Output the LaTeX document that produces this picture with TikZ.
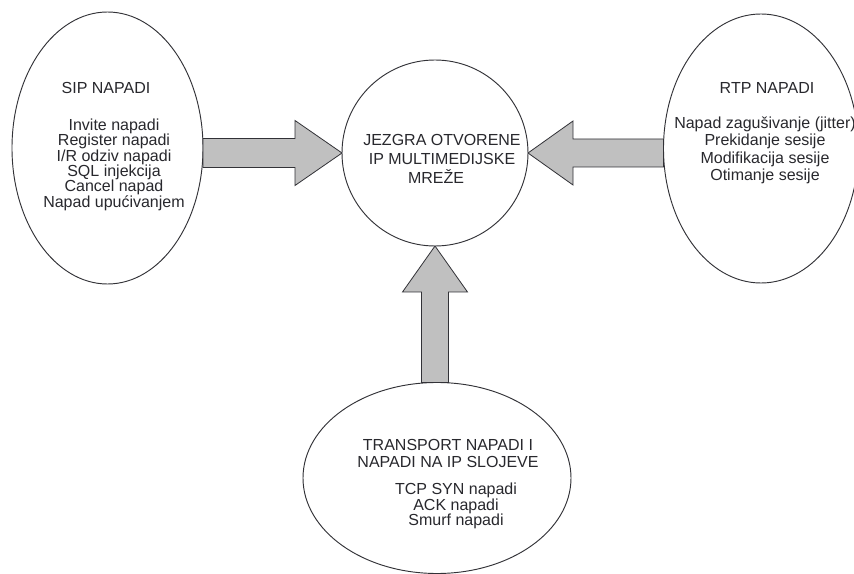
\documentclass[tikz,border=0pt]{standalone}
\usepackage{fontspec}
\setmainfont{Liberation Sans}
\usetikzlibrary{shapes.geometric,calc}
\definecolor{linecol}{RGB}{50,50,55}
\definecolor{arrowfill}{RGB}{192,192,192}
\definecolor{txtcol}{RGB}{40,40,45}
\tikzset{
  bubble/.style={draw=linecol, line width=0.7pt, ellipse, inner sep=0pt, outer sep=0pt},
  hub/.style={draw=linecol, line width=0.7pt, circle, inner sep=0pt, outer sep=0pt},
  txtblock/.style={text=txtcol, inner sep=0pt, outer sep=0pt, align=center, anchor=north},
  txtline/.style={text=txtcol, inner sep=0pt, outer sep=0pt, anchor=base, font=\fontsize{12pt}{14pt}\selectfont},
  blockarrow/.style={draw=linecol, line width=0.6pt, fill=arrowfill, line join=miter}
}
\begin{document}
\begin{tikzpicture}[x=0.75pt, y=-0.75pt]
  \useasboundingbox (0,0) rectangle (854,574);
  \fill[white] (0,0) rectangle (854,574);

  % bubbles
  \node[bubble, minimum width=143.25pt, minimum height=204pt] (sip) at (107.5,148) {};
  \node[hub, minimum size=139.5pt] (core) at (435,153) {};
  \node[bubble, minimum width=146.25pt, minimum height=201.75pt] (rtp) at (761,148.5) {};
  \node[bubble, minimum width=201pt, minimum height=143.25pt] (trans) at (437,478) {};

  % texts
  \node[txtline] (siptitle) at (106,94) {SIP NAPADI};
  \node[txtblock, font=\fontsize{12pt}{11.5pt}\selectfont] (siplist) at (114,119)
    {Invite napadi\\Register napadi\\I/R odziv napadi\\SQL injekcija\\Cancel napad\\Napad upućivanjem};

  \node[txtblock, font=\fontsize{12pt}{14.25pt}\selectfont] (coretext) at (442,134)
    {JEZGRA OTVORENE\\IP MULTIMEDIJSKE\\MREŽE\hspace*{9pt}};

  \node[txtline] (rtptitle) at (767,94) {RTP NAPADI};
  \node[txtblock, font=\fontsize{12pt}{13pt}\selectfont] (rtplist) at (765,117)
    {Napad zagušivanje (jitter)\\Prekidanje sesije\\Modifikacija sesije\\Otimanje sesije};

  \node[txtblock, font=\fontsize{12pt}{12.75pt}\selectfont] (transtitle) at (448,439)
    {TRANSPORT NAPADI I\\NAPADI NA IP SLOJEVE};
  \node[txtblock, font=\fontsize{12pt}{11.7pt}\selectfont] (translist) at (456,483)
    {TCP SYN napadi\\ACK napadi\\Smurf napadi};

  % block arrows
  \draw[blockarrow]
    ($(sip.east|-core.west)+(0,-14.5)$) -- ($(core.west)+(-47,-14.5)$)
    -- ($(core.west)+(-47,-32.5)$) -- (core.west)
    -- ($(core.west)+(-47,32.5)$) -- ($(core.west)+(-47,14.5)$)
    -- ($(sip.east|-core.west)+(0,14.5)$) -- cycle;

  \draw[blockarrow]
    ($(rtp.west|-core.east)+(0,-14)$) -- ($(core.east)+(45,-14)$)
    -- ($(core.east)+(45,-32)$) -- (core.east)
    -- ($(core.east)+(45,32)$) -- ($(core.east)+(45,14)$)
    -- ($(rtp.west|-core.east)+(0,14)$) -- cycle;

  \draw[blockarrow]
    ($(core.south|-trans.north)+(-13.5,0)$) -- ($(core.south)+(-13.5,46)$)
    -- ($(core.south)+(-32.5,46)$) -- (core.south)
    -- ($(core.south)+(32.5,46)$) -- ($(core.south)+(13.5,46)$)
    -- ($(core.south|-trans.north)+(13.5,0)$) -- cycle;
\end{tikzpicture}
\end{document}
